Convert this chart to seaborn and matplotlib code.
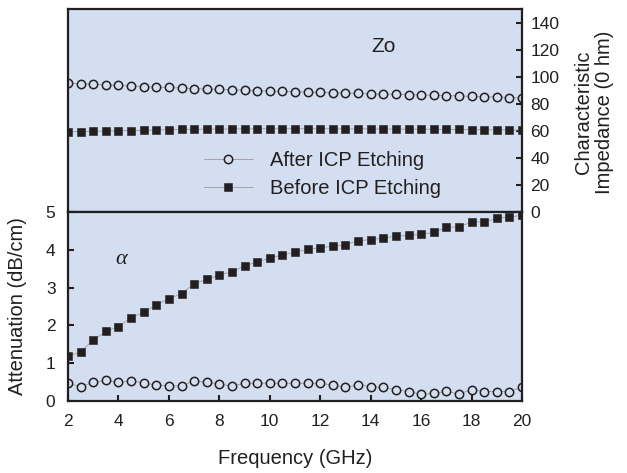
import matplotlib
matplotlib.use("Agg")
import matplotlib.pyplot as plt
import seaborn as sns

# Frequency grid (GHz)
freq = [2.0, 2.5, 3.0, 3.5, 4.0, 4.5, 5.0, 5.5, 6.0, 6.5, 7.0, 7.5, 8.0, 8.5,
        9.0, 9.5, 10.0, 10.5, 11.0, 11.5, 12.0, 12.5, 13.0, 13.5, 14.0, 14.5,
        15.0, 15.5, 16.0, 16.5, 17.0, 17.5, 18.0, 18.5, 19.0, 19.5, 20.0]

# Characteristic impedance (Ohm)
zo_after = [95.0, 94.8, 94.5, 94.0, 93.5, 93.1, 92.7, 92.3, 92.0, 91.6, 91.2,
            90.9, 90.6, 90.3, 90.0, 89.7, 89.4, 89.1, 88.9, 88.6, 88.4, 88.1,
            87.9, 87.7, 87.4, 87.2, 87.0, 86.7, 86.5, 86.3, 86.0, 85.8, 85.5,
            85.2, 85.0, 84.6, 84.2]
zo_before = [59.2, 59.4, 59.6, 59.8, 60.0, 60.2, 60.4, 60.6, 60.8, 61.0, 61.1,
             61.2, 61.3, 61.4, 61.4, 61.5, 61.5, 61.5, 61.5, 61.5, 61.5, 61.5,
             61.4, 61.4, 61.4, 61.3, 61.3, 61.2, 61.2, 61.1, 61.0, 61.0, 60.9,
             60.8, 60.7, 60.6, 60.5]

# Attenuation (dB/cm)
att_after = [0.47, 0.38, 0.49, 0.55, 0.49, 0.53, 0.48, 0.42, 0.40, 0.40, 0.53,
             0.50, 0.45, 0.39, 0.47, 0.47, 0.47, 0.47, 0.47, 0.47, 0.47, 0.42,
             0.36, 0.43, 0.38, 0.36, 0.30, 0.25, 0.18, 0.20, 0.26, 0.18, 0.30,
             0.25, 0.25, 0.25, 0.36]
att_before = [1.18, 1.30, 1.61, 1.84, 1.97, 2.20, 2.35, 2.54, 2.71, 2.84, 3.10,
              3.22, 3.33, 3.42, 3.57, 3.68, 3.78, 3.86, 3.94, 4.01, 4.06, 4.09,
              4.14, 4.24, 4.27, 4.31, 4.36, 4.38, 4.41, 4.46, 4.60, 4.60, 4.74,
              4.74, 4.83, 4.87, 4.91]

series_labels = ["After ICP Etching", "Before ICP Etching"]
x_ticks = [2, 4, 6, 8, 10, 12, 14, 16, 18, 20]
zo_ticks = [0, 20, 40, 60, 80, 100, 120, 140]
att_ticks = [0, 1, 2, 3, 4, 5]

bg = "#d3dff0"
ink = "#231f20"
link = "#9a9a9a"

sns.set_theme(style="ticks")
plt.rcParams["font.family"] = ["Liberation Sans", "DejaVu Sans"]
plt.rcParams["xtick.direction"] = "in"
plt.rcParams["ytick.direction"] = "in"

W, H = 627, 473
fig = plt.figure(figsize=(W / 100, H / 100), dpi=100)
L, R, T, M, B = 68, 522, 9, 212, 401
ax_top = fig.add_axes([L / W, 1 - M / H, (R - L) / W, (M - T) / H])
ax_bot = fig.add_axes([L / W, 1 - B / H, (R - L) / W, (B - M) / H])

open_kw = dict(marker="o", markersize=6.0, markerfacecolor=bg,
               markeredgecolor=ink, markeredgewidth=1.1,
               color=link, linewidth=0.6)
fill_kw = dict(marker="s", markersize=5.6, markerfacecolor=ink,
               markeredgecolor=ink, markeredgewidth=0.4,
               color=link, linewidth=0.6)

sns.lineplot(x=freq, y=zo_after, ax=ax_top, label=series_labels[0], **open_kw)
sns.lineplot(x=freq, y=zo_before, ax=ax_top, label=series_labels[1], **fill_kw)
sns.lineplot(x=freq, y=att_after, ax=ax_bot, **open_kw)
sns.lineplot(x=freq, y=att_before, ax=ax_bot, **fill_kw)

for ax in (ax_top, ax_bot):
    ax.set_facecolor(bg)
    ax.set_xlim(2, 20)
    for sp in ax.spines.values():
        sp.set_visible(True)
        sp.set_linewidth(1.6)
        sp.set_color(ink)
    ax.set_xlabel("")
    ax.set_ylabel("")

# upper panel: impedance on the right axis
ax_top.set_ylim(0, 150)
ax_top.set_yticks(zo_ticks)
ax_top.set_xticks(x_ticks)
ax_top.yaxis.tick_right()
ax_top.tick_params(axis="y", which="both", left=False, right=True,
                   labelleft=False, labelright=True, direction="in",
                   length=4.5, width=1.5, color=ink, pad=6,
                   labelsize=12.5, labelcolor=ink)
ax_top.tick_params(axis="x", bottom=False, top=False, labelbottom=False)

# lower panel: attenuation on the left axis
ax_bot.set_ylim(0, 5)
ax_bot.set_yticks(att_ticks)
ax_bot.set_xticks(x_ticks)
ax_bot.tick_params(axis="y", left=True, right=False, direction="in",
                   length=4.5, width=1.5, color=ink, pad=9,
                   labelsize=12.5, labelcolor=ink)
ax_bot.tick_params(axis="x", bottom=True, top=False, direction="in",
                   length=4.5, width=1.5, color=ink, pad=9,
                   labelsize=12.5, labelcolor=ink)

ax_top.text(14.5, 122, "Zo", fontsize=15, color=ink, ha="center", va="center")
ax_bot.text(4.1, 3.75, "α", fontsize=16, color=ink, ha="center", va="center",
            family=["Liberation Serif", "DejaVu Serif"], style="italic")

ax_top.legend(loc="center left", bbox_to_anchor=(0.30, 0.185), frameon=False,
              fontsize=14.5, handlelength=2.4, handletextpad=0.85,
              labelspacing=0.45, borderpad=0, borderaxespad=0,
              labelcolor=ink)

fig.text(18 / W, 1 - 306 / H, "Attenuation (dB/cm)", rotation=90,
         fontsize=14.5, color=ink, ha="center", va="center")
fig.text(594 / W, 1 - 112 / H, "Characteristic\nImpedance (0 hm)", rotation=90,
         fontsize=14.5, color=ink, ha="center", va="center",
         multialignment="center", linespacing=1.1)
fig.text(295 / W, 1 - 458 / H, "Frequency (GHz)", fontsize=14.5, color=ink,
         ha="center", va="center")

fig.savefig("out.png", dpi=100, facecolor="white")
